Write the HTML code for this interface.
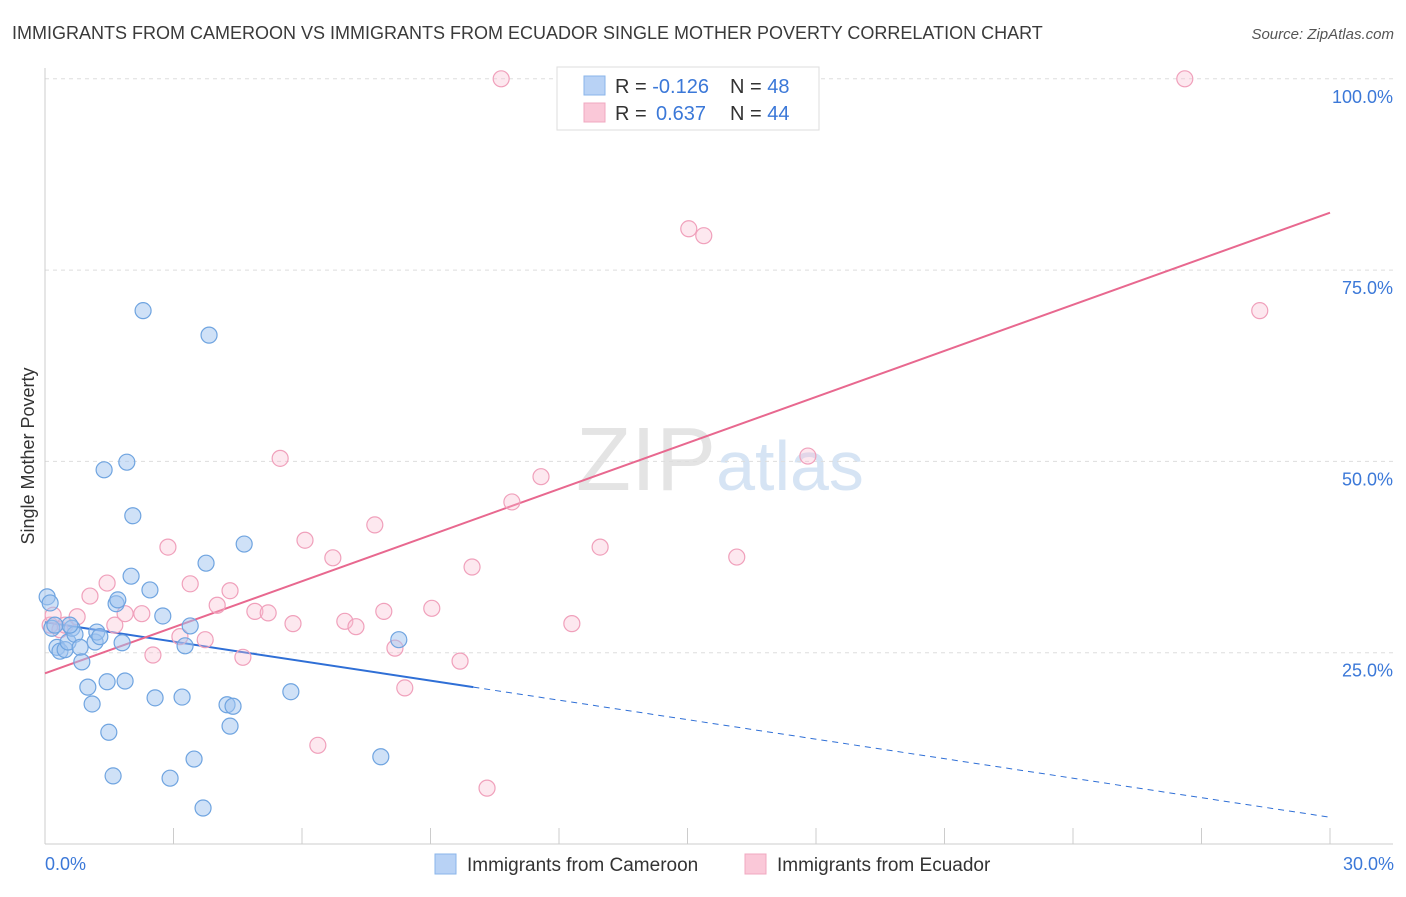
<!DOCTYPE html>
<html><head><meta charset="utf-8"><style>
body{margin:0;background:#fff;font-family:"Liberation Sans",sans-serif}
svg text{font-family:"Liberation Sans",sans-serif}
</style></head><body>
<svg id="chart" width="1406" height="892" xmlns="http://www.w3.org/2000/svg">
<text x="12" y="39" font-size="18" fill="#3a3a3a">IMMIGRANTS FROM CAMEROON VS IMMIGRANTS FROM ECUADOR SINGLE MOTHER POVERTY CORRELATION CHART</text>
<text x="1394" y="39" font-size="15" fill="#555" text-anchor="end" font-style="italic">Source: ZipAtlas.com</text>
<text x="720" y="490" font-size="90" text-anchor="middle" fill="#e4e4e4" font-family="Liberation Serif">ZIP<tspan fill="#d6e4f4" font-family="Liberation Sans" font-size="70">atlas</tspan></text>
<text transform="translate(34,456) rotate(-90)" font-size="18" fill="#333" text-anchor="middle">Single Mother Poverty</text>
<g id="grid"></g><g id="axes"></g><g id="trends"></g><g id="points"></g>
<g>
<rect x="557" y="67" width="262" height="63" fill="#fff" stroke="#ddd"/>
<rect x="584" y="76" width="21" height="19" fill="#b8d2f5" stroke="#8ab4ea"/>
<rect x="584" y="103" width="21" height="19" fill="#fac8d8" stroke="#f0a8c0"/>
<text x="615" y="93" font-size="20" fill="#333">R = <tspan fill="#3b78d8">-0.126</tspan><tspan x="730">N = </tspan><tspan fill="#3b78d8">48</tspan></text>
<text x="615" y="120" font-size="20" fill="#333">R = <tspan fill="#3b78d8" x="656">0.637</tspan><tspan x="730">N = </tspan><tspan fill="#3b78d8">44</tspan></text>
</g>
<g>
<rect x="435" y="854" width="21" height="20" fill="#b8d2f5" stroke="#8ab4ea"/>
<text x="467" y="871" font-size="19" fill="#333">Immigrants from Cameroon</text>
<rect x="745" y="854" width="21" height="20" fill="#fac8d8" stroke="#f0a8c0"/>
<text x="777" y="871" font-size="19" fill="#333">Immigrants from Ecuador</text>
</g>
</svg>
<script>
const blueX=[0.05,0.12,0.16,0.28,0.35,0.47,0.54,0.63,0.70,0.82,0.86,1.0,1.10,1.17,1.21,1.28,1.38,1.45,1.49,1.59,1.66,1.70,1.80,1.87,1.91,2.01,2.05,2.29,2.45,2.57,2.75,2.92,3.20,3.27,3.39,3.48,3.69,3.76,3.83,4.25,4.32,4.39,4.65,5.74,7.84,8.26,0.58,0.23];
const blueY=[32.3,31.5,28.2,25.7,25.2,25.4,26.4,28.2,27.4,25.7,23.8,20.5,18.3,26.4,27.7,27.1,48.9,21.2,14.6,8.9,31.4,31.9,26.3,21.3,49.9,35.0,42.9,69.7,33.2,19.1,29.8,8.6,19.2,25.9,28.5,11.1,4.7,36.7,66.5,18.2,15.4,18.0,39.2,19.9,11.4,26.7,28.6,28.6];
const pinkX=[0.12,0.19,0.35,0.47,0.75,1.05,1.45,1.63,1.87,2.26,2.52,2.87,3.15,3.39,3.74,4.02,4.32,4.62,4.90,5.21,5.49,5.79,6.07,6.37,6.72,7.00,7.26,7.70,7.91,8.17,8.40,9.03,9.69,9.97,10.32,10.65,10.90,11.58,12.30,12.96,15.03,15.38,16.15,17.81,26.61,28.36];
const pinkY=[28.6,29.9,28.0,28.6,29.7,32.4,34.1,28.6,30.1,30.1,24.7,38.8,27.1,34.0,26.7,31.2,33.1,24.4,30.4,30.2,50.4,28.8,39.7,12.9,37.4,29.1,28.4,41.7,30.4,25.6,20.4,30.8,23.9,36.2,7.3,100,44.7,48.0,28.8,38.8,80.4,79.5,37.5,50.7,100,69.7];
const blueTrend=[29.0,-0.85];
const pinkTrend=[22.3,2.007];
const blueSolidEnd=10;
const yTicks=[25,50,75,100];
const xTickLabels=["0.0%","30.0%"];
const NS="http://www.w3.org/2000/svg";
const X=v=>45+v/30*1285, Y=v=>844-v*7.652;
function mk(tag,attrs,parent){const e=document.createElementNS(NS,tag);for(const k in attrs)e.setAttribute(k,attrs[k]);document.getElementById(parent).appendChild(e);return e;}
yTicks.forEach(t=>{
 const l=mk('line',{x1:45,x2:1393,y1:Y(t),y2:Y(t),stroke:'#ddd','stroke-dasharray':'4,4'},'grid');
 
 
 const tx=mk('text',{x:1393,y:Y(t)+24,'font-size':18,fill:'#3b78d8','text-anchor':'end'},'grid');
 tx.textContent=t.toFixed(1)+'%';
 
 
});
let ax=mk('line',{x1:45,x2:1393,y1:844,y2:844,stroke:'#ccc'},'axes');


let ay=mk('line',{x1:45,x2:45,y1:68,y2:844,stroke:'#ccc'},'axes');


for(let i=0;i<=10;i++){const t=mk('line',{x1:X(i*3),x2:X(i*3),y1:828,y2:844,stroke:'#ccc'},'axes');
 
 }
[[0,45,'start'],[1,1394,'end']].forEach(([i,x,a])=>{const t=mk('text',{x:x,y:870,'font-size':18,fill:'#3b78d8','text-anchor':a},'axes');t.textContent=xTickLabels[i];
 
 });
const bt=x=>blueTrend[0]+blueTrend[1]*x, pt=x=>pinkTrend[0]+pinkTrend[1]*x;
let b1=mk('line',{x1:X(0),y1:Y(bt(0)),x2:X(blueSolidEnd),y2:Y(bt(blueSolidEnd)),stroke:'#2f6fd6','stroke-width':2},'trends');


let b2=mk('line',{x1:X(blueSolidEnd),y1:Y(bt(blueSolidEnd)),x2:X(30),y2:Y(bt(30)),stroke:'#2f6fd6','stroke-width':1,'stroke-dasharray':'6,5'},'trends');


let p1=mk('line',{x1:X(0),y1:Y(pt(0)),x2:X(30),y2:Y(pt(30)),stroke:'#e8688f','stroke-width':2},'trends');


pinkX.forEach((x,i)=>{const c=mk('circle',{cx:X(x),cy:Y(pinkY[i]),r:8,fill:'rgba(250,190,210,0.35)',stroke:'#f0a0bb','stroke-width':1.2},'points');
 
 });
blueX.forEach((x,i)=>{const c=mk('circle',{cx:X(x),cy:Y(blueY[i]),r:8,fill:'rgba(160,195,240,0.5)',stroke:'#6fa4e0','stroke-width':1.2},'points');
 
 });
</script>
</body></html>
